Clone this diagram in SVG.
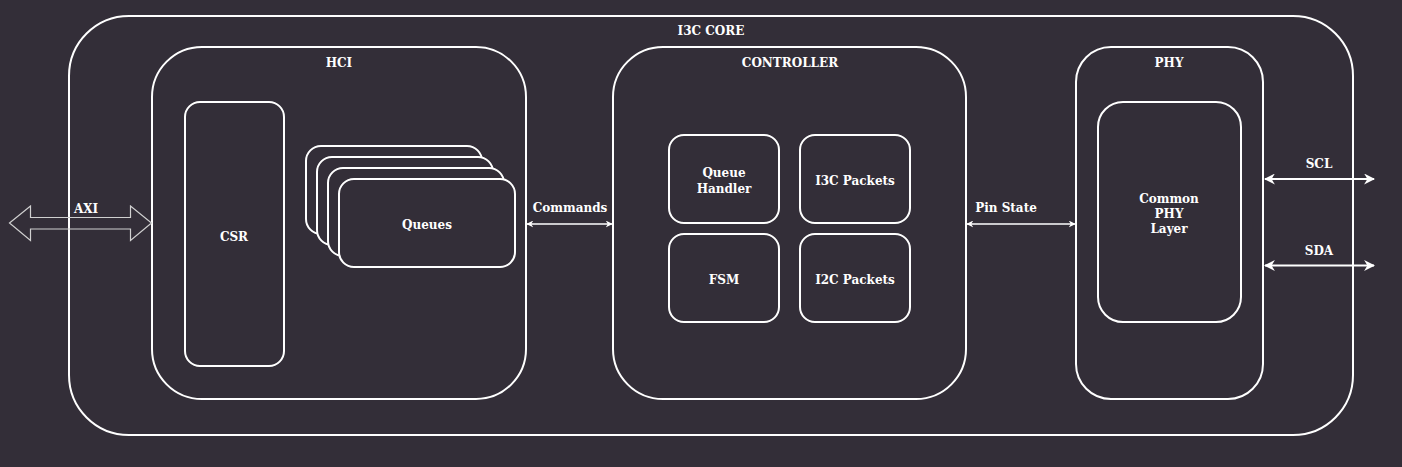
<svg xmlns="http://www.w3.org/2000/svg" width="1402" height="467" viewBox="0 0 1402 467">
<defs>
<style>
.box{fill:none;stroke:#ffffff;stroke-width:2}
.t{font-family:"DejaVu Serif","Liberation Serif",serif;font-weight:bold;font-size:12px;fill:#ffffff;text-anchor:middle;dominant-baseline:central}
.thin{fill:none;stroke:#ffffff;stroke-width:1.5}
.thick{fill:none;stroke:#ffffff;stroke-width:2}
.q{fill:#332e38;stroke:#ffffff;stroke-width:2}
</style>
<marker id="ah" viewBox="0 0 10 10" refX="9" refY="5" markerWidth="7" markerHeight="7" orient="auto-start-reverse" markerUnits="userSpaceOnUse">
<path d="M0,0 L10,5 L0,10 L3,5 Z" fill="#ffffff"/>
</marker>
<marker id="ahb" viewBox="0 0 10 10" refX="9" refY="5" markerWidth="11" markerHeight="11" orient="auto-start-reverse" markerUnits="userSpaceOnUse">
<path d="M0,0 L10,5 L0,10 L3,5 Z" fill="#ffffff"/>
</marker>
</defs>
<rect width="1402" height="467" fill="#332e38"/>
<g id="core">
<rect class="box" x="69" y="16" width="1284" height="419" rx="60" ry="60"/>
<text class="t" x="711" y="31">I3C CORE</text>
</g>
<g id="hci">
<rect class="box" x="152" y="47" width="374" height="352" rx="50" ry="50"/>
<text class="t" x="339" y="63">HCI</text>
</g>
<g id="csr">
<rect class="box" x="185" y="102" width="99" height="264" rx="15" ry="15"/>
<text class="t" x="234" y="237">CSR</text>
</g>
<g id="queues">
<rect class="q" x="306" y="146" width="176" height="88" rx="15" ry="15"/>
<rect class="q" x="317" y="157" width="176" height="88" rx="15" ry="15"/>
<rect class="q" x="328" y="168" width="176" height="88" rx="15" ry="15"/>
<rect class="q" x="339" y="179" width="176" height="88" rx="15" ry="15"/>
<text class="t" x="427" y="225">Queues</text>
</g>
<g id="controller">
<rect class="box" x="613" y="47" width="353" height="352" rx="50" ry="50"/>
<text class="t" x="790" y="63">CONTROLLER</text>
</g>
<g id="queue-handler">
<rect class="box" x="669" y="135" width="110" height="88" rx="15" ry="15"/>
<text class="t" x="724" y="173">Queue</text>
<text class="t" x="724" y="189">Handler</text>
</g>
<g id="i3c-packets">
<rect class="box" x="800" y="135" width="110" height="88" rx="15" ry="15"/>
<text class="t" x="855" y="181">I3C Packets</text>
</g>
<g id="fsm">
<rect class="box" x="669" y="234" width="110" height="88" rx="15" ry="15"/>
<text class="t" x="724" y="280">FSM</text>
</g>
<g id="i2c-packets">
<rect class="box" x="800" y="234" width="110" height="88" rx="15" ry="15"/>
<text class="t" x="855" y="280">I2C Packets</text>
</g>
<g id="phy">
<rect class="box" x="1076" y="47" width="187" height="352" rx="35" ry="35"/>
<text class="t" x="1169" y="63">PHY</text>
</g>
<g id="common-phy">
<rect class="box" x="1098" y="102" width="143" height="220" rx="25" ry="25"/>
<text class="t" x="1169" y="199">Common</text>
<text class="t" x="1169" y="214">PHY</text>
<text class="t" x="1169" y="229">Layer</text>
</g>
<g id="connectors">
<path d="M9.5,223 L30.5,206 L30.5,217.5 L130.5,217.5 L130.5,206 L151.5,223 L130.5,240.5 L130.5,229 L30.5,229 L30.5,240.5 Z" fill="none" stroke="#d0d0d0" stroke-width="1.2"/>
<text class="t" x="86" y="209">AXI</text>
<line class="thin" x1="527" y1="224" x2="612" y2="224" marker-start="url(#ah)" marker-end="url(#ah)"/>
<text class="t" x="570" y="208">Commands</text>
<line class="thin" x1="967" y1="224" x2="1075" y2="224" marker-start="url(#ah)" marker-end="url(#ah)"/>
<text class="t" x="1006" y="208">Pin State</text>
<line class="thick" x1="1265" y1="179" x2="1374" y2="179" marker-start="url(#ahb)" marker-end="url(#ahb)"/>
<text class="t" x="1319" y="164">SCL</text>
<line class="thick" x1="1265" y1="265.5" x2="1374" y2="265.5" marker-start="url(#ahb)" marker-end="url(#ahb)"/>
<text class="t" x="1319" y="251">SDA</text>
</g>
</svg>
